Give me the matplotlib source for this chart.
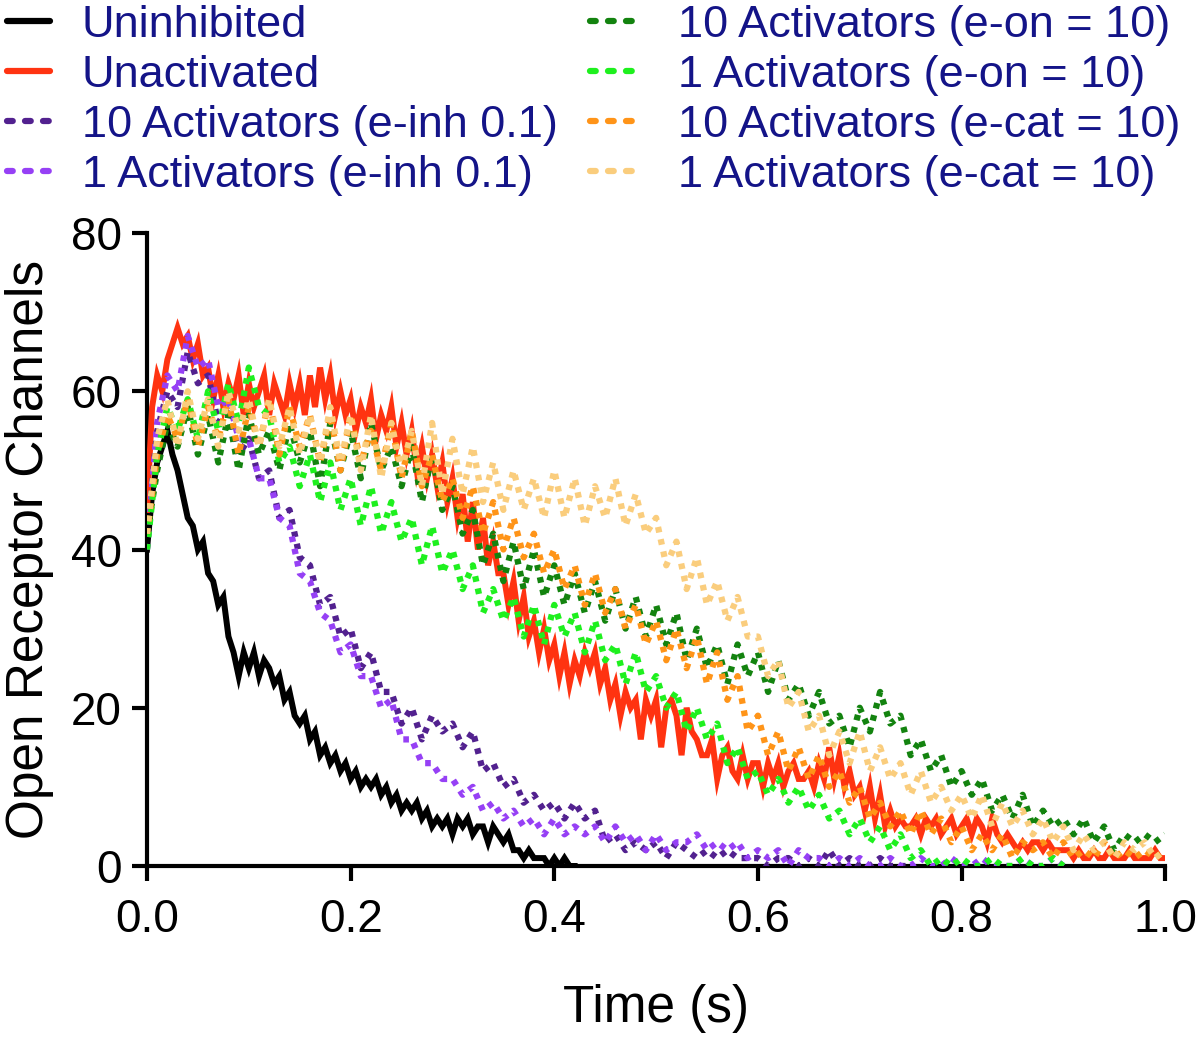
import numpy as np
import matplotlib
matplotlib.use("Agg")
from matplotlib import pyplot as plt
from matplotlib.lines import Line2D

plt.rcParams['font.family'] = ['Liberation Sans', 'DejaVu Sans']

# %% data (open channels vs time)

# solid traces sampled every 5 ms
dt_fine = 0.005
uninhibited = [
    40, 47, 51, 53, 55, 52, 50, 47, 44, 43,
    40, 41, 37, 36, 33, 34, 29, 27, 24, 27,
    25, 27, 24, 26, 25, 23, 24, 21, 22, 19,
    18, 19, 16, 17, 14, 15, 13, 14, 12, 13,
    11, 12, 10, 11, 10, 11, 9, 10, 8, 9,
    7, 8, 7, 8, 6, 7, 5, 6, 5, 6,
    4, 6, 5, 6, 4, 5, 5, 3, 5, 4,
    3, 4, 2, 2, 1, 2, 1, 1, 1, 0,
    1, 0, 1, 0, 0]
unactivated = [
    45, 58, 62, 60, 64, 66, 68, 66, 67, 64,
    66, 62, 63, 59, 62, 58, 61, 59, 62, 57,
    61, 58, 60, 62, 57, 61, 59, 57, 61, 58,
    61, 57, 62, 58, 63, 59, 62, 57, 60, 57,
    59, 55, 58, 56, 59, 54, 57, 55, 58, 53,
    56, 52, 55, 50, 53, 49, 52, 48, 51, 46,
    49, 44, 47, 41, 46, 40, 44, 38, 41, 37,
    37, 33, 36, 31, 34, 29, 31, 27, 30, 26,
    28, 24, 27, 23, 26, 24, 27, 25, 27, 23,
    25, 21, 23, 19, 22, 20, 21, 16, 21, 19,
    21, 15, 20, 21, 19, 14, 20, 17, 16, 14,
    14, 16, 11, 14, 15, 12, 11, 14, 11, 13,
    13, 10, 13, 11, 13, 10, 12, 13, 11, 11,
    12, 10, 13, 11, 15, 11, 14, 10, 12, 9,
    10, 7, 10, 6, 9, 5, 7, 5, 6, 5,
    5, 6, 4, 6, 5, 6, 4, 5, 6, 4,
    5, 6, 4, 6, 5, 3, 6, 4, 3, 4,
    3, 2, 3, 2, 3, 3, 2, 3, 2, 2,
    2, 2, 1, 2, 1, 1, 2, 1, 1, 2,
    1, 1, 1, 2, 1, 1, 1, 1, 2, 1,
    1]

# dotted traces sampled every 10 ms
dt_coarse = 0.01
act10_inh = [
    42, 55, 60, 58, 65, 61, 62, 56, 58, 52,
    54, 49, 50, 44, 45, 39, 38, 33, 34, 29,
    30, 25, 27, 22, 22, 18, 20, 16, 19, 17,
    18, 15, 17, 12, 13, 10, 11, 8, 9, 7,
    8, 6, 8, 6, 7, 3, 4, 2, 3, 2,
    3, 1, 3, 2, 1, 2, 1, 2, 1, 1,
    1, 0, 1, 1, 0, 1, 0, 2, 0, 1,
    0, 0, 1, 0, 0, 0]
act1_inh = [
    40, 56, 62, 60, 67, 63, 64, 58, 59, 54,
    54, 49, 49, 44, 43, 37, 36, 32, 31, 27,
    28, 24, 24, 20, 21, 16, 16, 13, 13, 11,
    11, 9, 10, 7, 8, 6, 7, 5, 6, 4,
    6, 4, 5, 4, 5, 3, 5, 3, 4, 2,
    4, 2, 3, 3, 4, 2, 3, 2, 3, 1,
    2, 1, 2, 0, 2, 1, 1, 0, 1, 0,
    1, 0, 0, 1, 0, 0, 1, 0, 0, 1,
    0, 0, 1, 0, 0, 0, 1, 0, 0, 1,
    0]
act10_on = [
    42, 50, 56, 53, 58, 52, 57, 51, 57, 50,
    57, 52, 55, 50, 56, 51, 55, 48, 56, 50,
    55, 49, 56, 50, 53, 48, 53, 46, 52, 45,
    48, 42, 45, 38, 42, 36, 41, 35, 40, 34,
    38, 33, 37, 32, 36, 31, 35, 30, 34, 29,
    33, 28, 32, 26, 30, 25, 28, 23, 28, 24,
    27, 22, 26, 21, 23, 19, 22, 18, 19, 15,
    20, 17, 22, 18, 19, 14, 16, 12, 14, 10,
    12, 9, 11, 7, 9, 6, 9, 5, 7, 5,
    6, 4, 6, 3, 5, 2, 4, 3, 4, 3,
    4]
act1_on = [
    40, 52, 58, 55, 59, 54, 60, 55, 61, 56,
    63, 58, 57, 51, 53, 48, 52, 46, 51, 45,
    49, 43, 48, 42, 46, 41, 44, 38, 43, 37,
    40, 35, 38, 32, 35, 31, 34, 29, 33, 28,
    33, 29, 32, 27, 31, 26, 28, 23, 27, 22,
    24, 20, 22, 17, 20, 16, 18, 13, 15, 11,
    12, 9, 11, 8, 10, 7, 9, 6, 7, 4,
    6, 3, 5, 2, 4, 1, 2, 0, 1, 0,
    1, 0, 0, 1, 0, 0, 1, 0, 0, 1,
    0]
act10_cat = [
    42, 52, 57, 54, 59, 53, 58, 54, 59, 52,
    58, 53, 59, 52, 58, 53, 57, 51, 57, 50,
    57, 51, 55, 50, 56, 49, 55, 48, 52, 46,
    49, 44, 48, 42, 46, 40, 44, 39, 42, 37,
    40, 35, 38, 33, 37, 32, 35, 30, 33, 28,
    31, 26, 30, 25, 29, 23, 27, 21, 24, 17,
    19, 14, 17, 12, 15, 11, 14, 10, 12, 8,
    10, 6, 8, 5, 7, 4, 7, 4, 6, 3,
    5, 2, 4, 2, 4, 1, 3, 2, 3, 1,
    3, 1, 2, 1, 3, 1, 2, 1, 2, 1,
    2]
act1_cat = [
    42, 54, 59, 53, 60, 54, 59, 53, 60, 55,
    59, 53, 59, 53, 58, 52, 57, 51, 58, 51,
    57, 50, 57, 49, 56, 50, 55, 48, 56, 47,
    54, 47, 53, 46, 51, 45, 50, 45, 49, 44,
    50, 44, 49, 43, 48, 44, 49, 43, 47, 42,
    44, 38, 41, 35, 39, 33, 36, 31, 34, 29,
    29, 24, 26, 20, 22, 17, 19, 14, 17, 13,
    17, 12, 15, 11, 13, 9, 12, 8, 10, 7,
    9, 6, 9, 5, 8, 5, 7, 4, 6, 3,
    5, 2, 4, 2, 3, 1, 3, 2, 3, 1,
    2]

labels = ['Uninhibited', 'Unactivated',
          '10 Activators (e-inh 0.1)', '1 Activators (e-inh 0.1)',
          '10 Activators (e-on = 10)', '1 Activators (e-on = 10)',
          '10 Activators (e-cat = 10)', '1 Activators (e-cat = 10)']
colors = ['#000000', '#FF3311', '#52218F', '#9640F5',
          '#13830F', '#1EF01E', '#FF9418', '#FACD7D']

# %% figure

fig = plt.figure(figsize=(12, 10.37), dpi=100)
ax = fig.add_axes([0.1225, 0.1649, 0.8485, 0.6104])

solid = [uninhibited, unactivated]
dotted = [act10_inh, act1_inh, act10_on, act1_on, act10_cat, act1_cat]

for i, vals in enumerate(solid):
    t = np.arange(len(vals)) * dt_fine
    ax.plot(t, vals, color=colors[i], lw=4.3, solid_joinstyle='miter',
            zorder=2 + i)
for j, vals in enumerate(dotted):
    t = np.arange(len(vals)) * dt_coarse
    ax.plot(t, vals, color=colors[j + 2], lw=4.5, linestyle=(0, (0.9, 1.1)),
            dash_capstyle='butt', zorder=4 + j)

ax.set_xlim(0, 1.0)
ax.set_ylim(0, 80)
ax.set_xticks([0.0, 0.2, 0.4, 0.6, 0.8, 1.0])
ax.set_xticklabels(['0.0', '0.2', '0.4', '0.6', '0.8', '1.0'])
ax.set_yticks([0, 20, 40, 60, 80])
for s in ['top', 'right']:
    ax.spines[s].set_visible(False)
for s in ['left', 'bottom']:
    ax.spines[s].set_linewidth(3)
ax.tick_params(axis='both', width=3, length=11, labelsize=33)
ax.tick_params(axis='x', pad=12)
ax.tick_params(axis='y', pad=7)
ax.set_xlabel('Time (s)', fontsize=37, labelpad=30)
ax.set_ylabel('Open Receptor Channels', fontsize=37, labelpad=12)

# legend: solid handles for the first two, dotted for the rest,
# drawn as two single-column legends so each column can be placed
handles = []
for k, lab in enumerate(labels):
    ls = '-' if k < 2 else (0, (0.92, 1.96))
    handles.append(Line2D([], [], color=colors[k], lw=4.5, linestyle=ls,
                          dash_capstyle='round', solid_capstyle='round',
                          label=lab))
leg_kw = dict(loc='upper left', frameon=False, fontsize=32.5,
              labelcolor='#141488', handlelength=0.95, labelspacing=0.2,
              borderpad=0.0, borderaxespad=0.0)
leg1 = fig.legend(handles=handles[:4], bbox_to_anchor=(0.006, 0.995),
                  handletextpad=0.7, **leg_kw)
fig.legend(handles=handles[4:], bbox_to_anchor=(0.492, 0.995),
           handletextpad=1.0, **leg_kw)

fig.savefig('out.png', dpi=100)
